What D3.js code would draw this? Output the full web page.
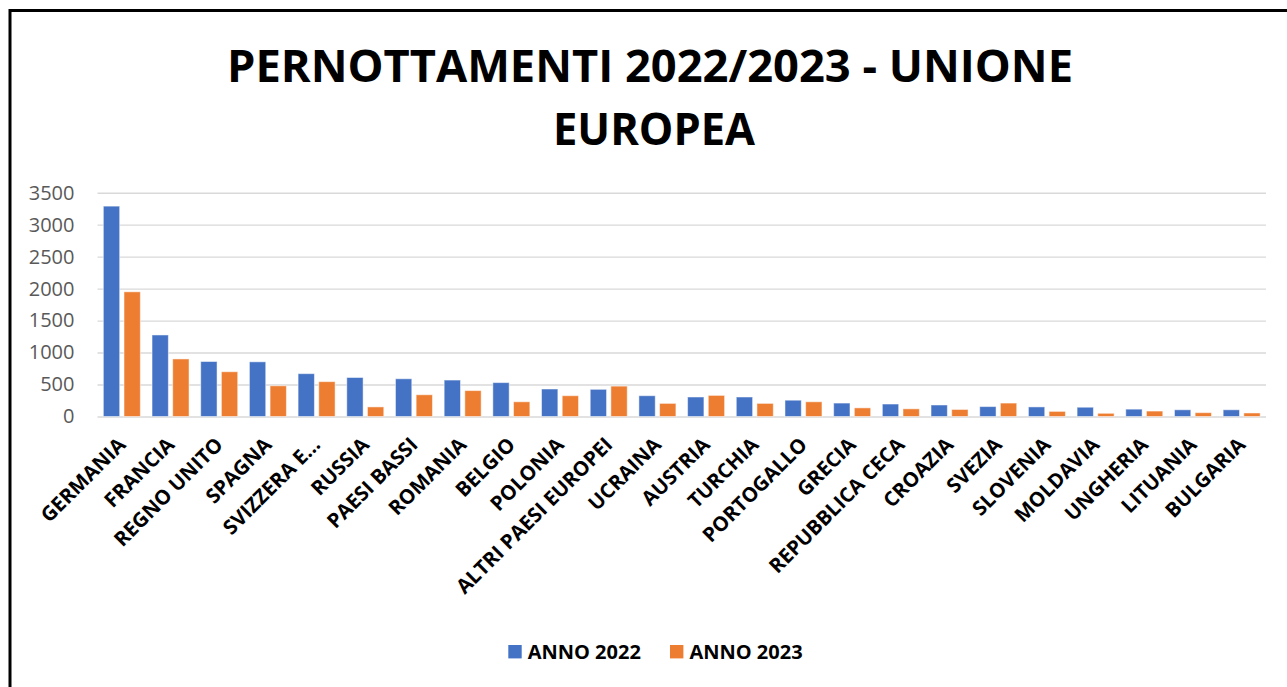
<!DOCTYPE html>
<html>
<head>
<meta charset="utf-8">
<script src="https://cdn.jsdelivr.net/npm/d3@7"></script>
<style>
  html, body { margin: 0; padding: 0; background: #fff; }
  svg { display: block; }
</style>
</head>
<body>
<svg id="chart" width="1287" height="687"></svg>
<script>
// Overnight stays by country of origin, 2022 vs 2023
const categories = ["GERMANIA", "FRANCIA", "REGNO UNITO", "SPAGNA", "SVIZZERA E…", "RUSSIA",
  "PAESI BASSI", "ROMANIA", "BELGIO", "POLONIA", "ALTRI PAESI EUROPEI", "UCRAINA",
  "AUSTRIA", "TURCHIA", "PORTOGALLO", "GRECIA", "REPUBBLICA CECA", "CROAZIA",
  "SVEZIA", "SLOVENIA", "MOLDAVIA", "UNGHERIA", "LITUANIA", "BULGARIA"];
const anno2022 = [3290, 1275, 860, 855, 670, 610, 590, 570, 530, 430, 425, 325,
  305, 305, 255, 210, 195, 180, 155, 150, 145, 115, 105, 105];
const anno2023 = [1950, 900, 700, 480, 545, 150, 340, 405, 230, 325, 475, 205,
  330, 205, 230, 135, 120, 110, 210, 80, 50, 85, 60, 55];
const seriesNames = ["ANNO 2022", "ANNO 2023"];
const yTicks = [0, 500, 1000, 1500, 2000, 2500, 3000, 3500];
const titleLines = ["PERNOTTAMENTI 2022/2023 - UNIONE", "EUROPEA"];

const colors = ["#4472C4", "#ED7D31"];
const seriesValues = [anno2022, anno2023];

const svg = d3.select("#chart");

// frame
svg.append("rect")
  .attr("x", 10).attr("y", 10.5)
  .attr("width", 1300).attr("height", 700)
  .attr("fill", "none").attr("stroke", "#000").attr("stroke-width", 3);

// title
const titleX = [650, 654], titleY = [82, 145], titleW = [846, 202];
svg.selectAll("text.title").data(titleLines).join("text")
  .attr("class", "title")
  .attr("x", (d, i) => titleX[i]).attr("y", (d, i) => titleY[i])
  .attr("text-anchor", "middle")
  .attr("textLength", (d, i) => titleW[i])
  .attr("lengthAdjust", "spacingAndGlyphs")
  .style("font-family", "'Open Sans', sans-serif")
  .style("font-weight", 700).style("font-size", "44px")
  .attr("fill", "#000")
  .text(d => d);

// scales
const x0 = d3.scaleBand().domain(categories).range([97.5, 1266]).paddingInner(0.24).paddingOuter(0.12);
const x1 = d3.scaleBand().domain([0, 1]).range([0, x0.bandwidth()]).paddingInner(0.21);
const y = d3.scaleLinear().domain([0, 3500]).range([416.5, 192.7]);

// gridlines + y labels
const yAxis = d3.axisLeft(y).tickValues(yTicks).tickFormat(d3.format("d"))
  .tickSize(-(1266 - 97.5)).tickPadding(23);
const gy = svg.append("g").attr("transform", "translate(97.5,0)").call(yAxis);
gy.select(".domain").remove();
gy.selectAll(".tick line").attr("stroke", "#D9D9D9").attr("stroke-width", 1.4);
gy.selectAll(".tick text")
  .style("font-family", "'Open Sans', sans-serif").style("font-size", "20px")
  .attr("fill", "#595959");

// bars
const groups = svg.append("g").selectAll("g").data(categories).join("g")
  .attr("transform", d => `translate(${x0(d)},0)`);
groups.selectAll("rect").data((d, i) => seriesValues.map((s, k) => ({ k, v: s[i] }))).join("rect")
  .attr("x", d => x1(d.k))
  .attr("width", x1.bandwidth())
  .attr("y", d => y(d.v))
  .attr("height", d => y(0) - y(d.v))
  .attr("fill", d => colors[d.k])
  .attr("stroke", "#fff").attr("stroke-opacity", 0.5).attr("stroke-width", 1);

// category labels, rotated
svg.append("g").selectAll("text").data(categories).join("text")
  .attr("transform", d => {
    const cx = x0(d) + x0.bandwidth() / 2 + 5;
    return `translate(${cx},446) rotate(-45)`;
  })
  .attr("text-anchor", "end")
  .style("font-family", "'Open Sans', sans-serif")
  .style("font-weight", 700).style("font-size", "20.3px")
  .attr("fill", "#000")
  .text(d => d);

// legend
const legX = [508.3, 670];
const leg = svg.append("g").selectAll("g").data(seriesNames).join("g")
  .attr("transform", (d, i) => `translate(${legX[i]},645)`);
leg.append("rect").attr("width", 13.4).attr("height", 13.4).attr("fill", (d, i) => colors[i]);
leg.append("text").attr("x", 19.4).attr("y", 13.6)
  .style("font-family", "'Open Sans', sans-serif")
  .style("font-weight", 700).style("font-size", "20px")
  .attr("fill", "#000")
  .text(d => d);
</script>
</body>
</html>
